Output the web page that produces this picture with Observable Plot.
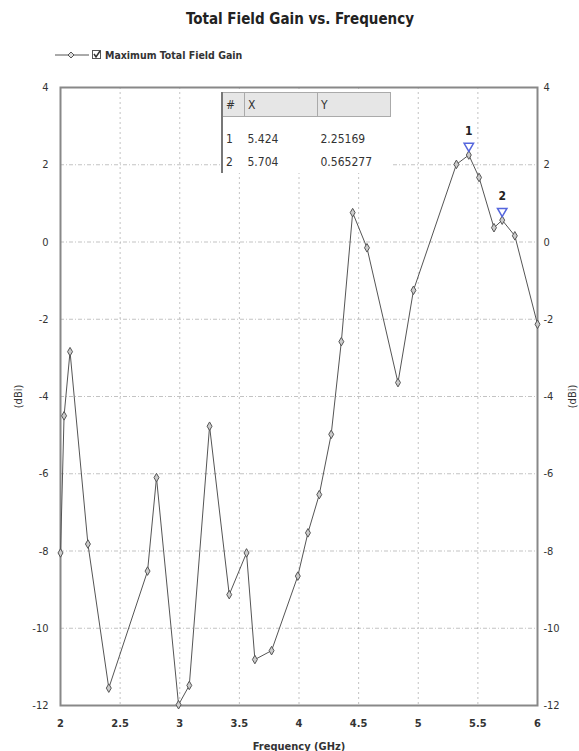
<!DOCTYPE html>
<html><head><meta charset="utf-8">
<script src="https://cdn.jsdelivr.net/npm/d3@7"></script>
<script src="https://cdn.jsdelivr.net/npm/@observablehq/plot@0.6"></script>
<style>
body{margin:0;background:#fff;font-family:"Liberation Sans Narrow","DejaVu Sans Condensed","Liberation Sans",sans-serif;}
#wrap{position:relative;width:579px;height:751px;overflow:hidden;}
#title{position:absolute;left:0;top:10px;width:600px;text-align:center;font-weight:bold;font-size:15px;color:#222;}
#legend{position:absolute;left:55px;top:49px;font-size:10.5px;font-weight:bold;color:#333;display:flex;align-items:center;gap:3px;}
#chart{position:absolute;left:0;top:70px;}
#mtable{position:absolute;left:221px;top:92px;border-collapse:collapse;font-size:12px;color:#333;}
#mtable th{background:#e6e6e6;font-weight:normal;text-align:left;height:23px;padding:0 3px;border:1px solid #aaa;}
#mtable td{height:23px;padding:0 3px;background:#fff;}
#mtable tr.sp td{height:10px;}
#mtable td:first-child,#mtable th:first-child{border-left:2px solid #777;}
</style></head>
<body>
<div id="wrap">
  <div id="title">Total Field Gain vs. Frequency</div>
  <div id="legend"><svg width="34" height="10"><line x1="0" y1="5" x2="34" y2="5" stroke="#555"/><path d="M16 2 L19 5 L16 8 L13 5Z" fill="#ddd" stroke="#555"/></svg><svg width="10" height="10"><rect x="0.5" y="0.5" width="8" height="8" fill="#fff" stroke="#555"/><path d="M2 4 L4 7 L8 1" fill="none" stroke="#333" stroke-width="1.5"/></svg><span>Maximum Total Field Gain</span></div>
  <div id="chart"></div>
  <table id="mtable"></table>
</div>
<script>
const freq = [2.0, 2.03, 2.08, 2.23, 2.405, 2.73, 2.805, 2.99, 3.08, 3.25, 3.415, 3.56, 3.63, 3.77, 3.99, 4.075, 4.17, 4.27, 4.355, 4.45, 4.57, 4.83, 4.96, 5.32, 5.424, 5.51, 5.635, 5.704, 5.81, 6.0];
const gain = [-8.05, -4.5, -2.84, -7.82, -11.55, -8.52, -6.1, -11.98, -11.48, -4.77, -9.13, -8.05, -10.81, -10.58, -8.65, -7.53, -6.54, -4.98, -2.58, 0.76, -0.15, -3.64, -1.25, 2.01, 2.25169, 1.67, 0.37, 0.565277, 0.16, -2.13];
const xTicks = [2, 2.5, 3, 3.5, 4, 4.5, 5, 5.5, 6];
const yTicks = [4, 2, 0, -2, -4, -6, -8, -10, -12];
const markerIds = ["1", "2"];
const markerX = [5.424, 5.704];
const markerY = [2.25169, 0.565277];
const markerXText = ["5.424", "5.704"];
const markerYText = ["2.25169", "0.565277"];

const data = freq.map((f, i) => ({f, g: gain[i]}));
const markers = markerIds.map((id, i) => ({id, f: markerX[i], g: markerY[i]}));
const font = '"Liberation Sans Narrow","DejaVu Sans Condensed","Liberation Sans",sans-serif';

const plot = Plot.plot({
  width: 579, height: 681,
  marginTop: 17, marginBottom: 46, marginLeft: 60, marginRight: 42,
  style: {fontFamily: font, fontSize: "11px", color: "#333", background: "#fff"},
  x: {domain: [2, 6]},
  y: {domain: [-12, 4]},
  marks: [
    Plot.gridX(xTicks, {stroke: "#888", strokeOpacity: 0.5, strokeDasharray: "2,3"}),
    Plot.gridY(yTicks, {stroke: "#888", strokeOpacity: 0.5, strokeDasharray: "4,2,1,2"}),
    Plot.axisX(xTicks, {anchor: "bottom", tickSize: 0, tickPadding: 14, tickFormat: d => String(d), label: "Frequency (GHz)", labelAnchor: "center", labelOffset: 44, labelArrow: "none", fontWeight: "bold"}),
    Plot.axisY(yTicks, {anchor: "left", tickSize: 0, tickPadding: 12, tickFormat: d => String(d), label: "(dBi)", labelAnchor: "center", labelOffset: 46, labelArrow: "none"}),
    Plot.axisY(yTicks, {anchor: "right", tickSize: 0, tickPadding: 6, tickFormat: d => String(d), label: "(dBi)", labelAnchor: "center", labelOffset: 38, labelArrow: "none"}),
    Plot.frame({stroke: "#888", strokeWidth: 2}),
    Plot.line(data, {x: "f", y: "g", stroke: "#555", strokeWidth: 1}),
    Plot.dot(data, {x: "f", y: "g", symbol: "diamond", r: 2.6, stroke: "#555", fill: "#ccc", strokeWidth: 1}),
    Plot.dot(markers, {x: "f", y: "g", symbol: "triangle", rotate: 180, r: 3.5, stroke: "#5566dd", fill: "none", dy: -9}),
    Plot.text(markers, {x: "f", y: "g", text: "id", dy: -24, fontWeight: "bold", fontSize: 12, fill: "#222"})
  ]
});
document.getElementById("chart").appendChild(plot);

// marker table
const tbl = document.getElementById("mtable");
let html = '<tr><th style="width:15px">#</th><th style="width:66px">X</th><th style="width:66px">Y</th></tr><tr class="sp"><td></td><td></td><td></td></tr>';
markerIds.forEach((id, i) => {
  html += `<tr><td>${id}</td><td>${markerXText[i]}</td><td>${markerYText[i]}</td></tr>`;
});
tbl.innerHTML = html;
</script>
</body></html>
